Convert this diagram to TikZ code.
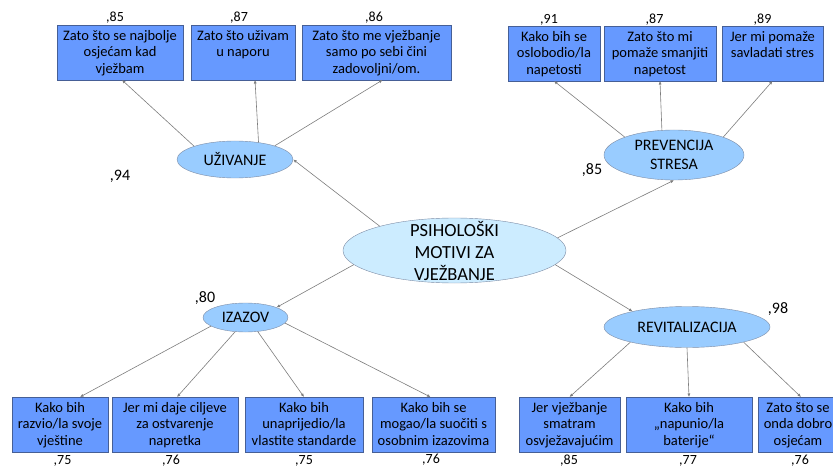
\documentclass[tikz,border=0pt]{standalone}
\usepackage{fontspec}
\setmainfont{Carlito}
\usetikzlibrary{shapes.geometric,arrows.meta}
\definecolor{itemfill}{RGB}{102,153,255}
\definecolor{itemline}{RGB}{70,95,150}
\definecolor{factorfill}{RGB}{153,204,255}
\definecolor{rootfill}{RGB}{204,236,255}
\definecolor{factorline}{RGB}{125,140,165}
\definecolor{linkgray}{RGB}{125,125,125}
\newcommand{\itemtext}[2]{\parbox[t][55pt][t]{#1}{\centering\rule{0pt}{15.5pt}#2}}
\tikzset{
  item/.style   = {shape=rectangle, draw=itemline, fill=itemfill,
                   inner sep=0pt, outer sep=0pt, anchor=north west,
                   font=\fontsize{14.5}{16.3}\selectfont},
  factor/.style = {shape=ellipse, draw=factorline, fill=factorfill,
                   inner sep=-12pt, align=center,
                   font=\fontsize{16}{19.5}\selectfont},
  root/.style   = {factor, fill=rootfill, font=\fontsize{18.5}{22}\selectfont},
  load/.style   = {anchor=base, inner sep=0pt, font=\fontsize{14}{16}\selectfont},
  coef/.style   = {anchor=base, inner sep=0pt, font=\fontsize{16}{18}\selectfont},
  link/.style   = {draw=linkgray, line width=0.6pt, -{Latex[length=3.5pt,width=3pt]}}
}

\begin{document}
\begin{tikzpicture}[x=1pt, y=-1pt]
  \useasboundingbox (0,0) rectangle (833,468);

  % latent variables
  \node [root, minimum width=223pt, minimum height=65pt] (motivi) at (454.5,250.5)
        {PSIHOLOŠKI\\MOTIVI ZA\\VJEŽBANJE};
  \node [factor, minimum width=116pt, minimum height=37pt] (uzivanje) at (235,159.5) {UŽIVANJE};
  \node [factor, minimum width=140pt, minimum height=50pt] (stres) at (674,155) {PREVENCIJA\\STRESA};
  \node [factor, minimum width=85pt, minimum height=29pt] (izazov) at (245.5,317.5) {IZAZOV};
  \node [factor, minimum width=166pt, minimum height=41pt] (revital) at (687,327) {REVITALIZACIJA};

  % indicators
  \node [item] (u1) at (57,25)  {\itemtext{126pt}{Zato što se najbolje\\osjećam kad\\vježbam}};
  \node [item] (u2) at (191,25) {\itemtext{104pt}{Zato što uživam\\u naporu}};
  \node [item] (u3) at (302,25) {\itemtext{149pt}{Zato što me vježbanje\\samo po sebi čini\\zadovoljni/om.}};
  \node [item] (s1) at (508,26) {\itemtext{92pt}{Kako bih se\\oslobodio/la\\napetosti}};
  \node [item] (s2) at (604,26) {\itemtext{112pt}{Zato što mi\\pomaže smanjiti\\napetost}};
  \node [item] (s3) at (722,26) {\itemtext{101pt}{Jer mi pomaže\\savladati stres}};
  \node [item] (i1) at (12,397)  {\itemtext{96pt}{Kako bih\\razvio/la svoje\\vještine}};
  \node [item] (i2) at (112,397) {\itemtext{126pt}{Jer mi daje ciljeve\\za ostvarenje\\napretka}};
  \node [item] (i3) at (245,397) {\itemtext{118pt}{Kako bih\\unaprijedio/la\\vlastite standarde}};
  \node [item] (i4) at (372,397) {\itemtext{123pt}{Kako bih se\\mogao/la suočiti s\\osobnim izazovima}};
  \node [item] (r1) at (519,397) {\itemtext{101pt}{Jer vježbanje\\smatram\\osvježavajućim}};
  \node [item] (r2) at (626,397) {\itemtext{126pt}{Kako bih\\„napunio/la\\baterije“}};
  \node [item] (r3) at (758,397) {\itemtext{80pt}{Zato što se\\onda dobro\\osjećam}};

  % loadings
  \node [load] (lu1) at (115,22)   {,85};
  \node [load] (lu2) at (239,22)   {,87};
  \node [load] (lu3) at (374,22)   {,86};
  \node [load] (ls1) at (549,24)   {,91};
  \node [load] (ls2) at (654.5,24) {,87};
  \node [load] (ls3) at (762.5,24) {,89};
  \node [load] (li1) at (62.5,464.5) {,75};
  \node [load] (li2) at (171,464.5)  {,76};
  \node [load] (li3) at (304,464.5)  {,75};
  \node [load] (li4) at (431,463)    {,76};
  \node [load] (lr1) at (569,464.5)  {,85};
  \node [load] (lr2) at (688,464.5)  {,77};
  \node [load] (lr3) at (800,464.5)  {,76};
  \node [coef] (cu) at (120,180) {,94};
  \node [coef] (cs) at (592,175) {,85};
  \node [coef] (ci) at (205,302) {,80};
  \node [coef] (cr) at (778,313) {,98};

  % paths
  \draw [link] (motivi.162) -- (uzivanje.east);
  \draw [link] (motivi.7.5) -- (stres.south);
  \draw [link] (motivi.188) -- (izazov.18);
  \draw [link] (motivi.-8)  -- (revital.164);

  \draw [link] (uzivanje.162) -- ([xshift=2pt]u1.south);
  \draw [link] (uzivanje.36)  -- ([xshift=12pt]u2.south);
  \draw [link] (uzivanje.19)  -- ([xshift=6pt]u3.south);
  \draw [link] (stres.160) -- (s1.south);
  \draw [link] (stres.116) -- (s2.south);
  \draw [link] (stres.20)  -- (s3.south);
  \draw [link] (izazov.194) -- ([xshift=20pt]i1.north);
  \draw [link] (izazov.234) -- ([xshift=2pt]i2.north);
  \draw [link] (izazov.311) -- (i3.north);
  \draw [link] (izazov.352) -- ([xshift=-3pt]i4.north);
  \draw [link] (revital.195)   -- (r1.north);
  \draw [link] (revital.south) -- (r2.north);
  \draw [link] (revital.345)   -- ([xshift=3pt]r3.north);
\end{tikzpicture}
\end{document}
